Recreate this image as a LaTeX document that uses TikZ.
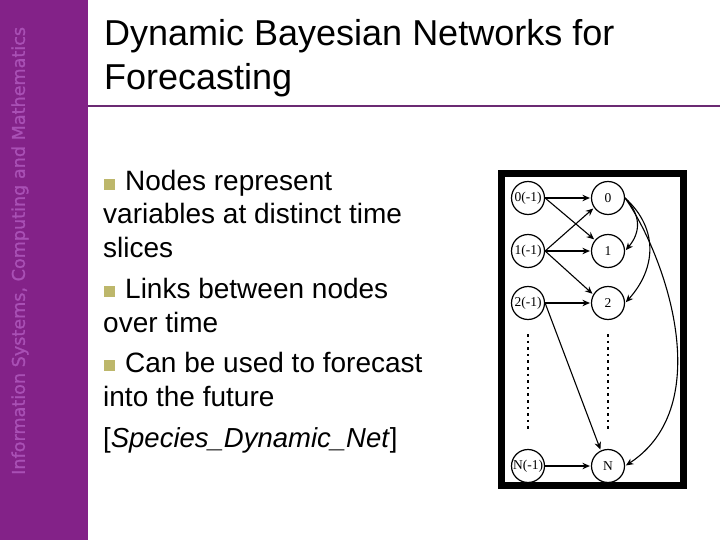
\documentclass[tikz,border=0pt]{standalone}
\usepackage{fontspec}
\setmainfont{Liberation Sans}
\newfontfamily\sidefont[FakeBold=1.2]{DejaVu Sans}
\newfontfamily\netfont{Liberation Serif}
\usetikzlibrary{arrows.meta}
\definecolor{sidepurple}{HTML}{832288}
\definecolor{sidetext}{HTML}{A950B5}
\definecolor{rulepurple}{HTML}{6B2A73}
\definecolor{bulletolive}{HTML}{BDB76B}
\def\layersep{80}
\newcommand{\bulletmark}{\textcolor{bulletolive}{\rule{11pt}{11pt}}}

\begin{document}
\begin{tikzpicture}[x=1pt,y=-1pt,shorten >=1pt,>={Stealth[length=7.5pt,width=6.5pt]},draw=black]
  \tikzstyle{var}=[circle,draw,line width=1.2pt,fill=white,minimum size=33pt,inner sep=0pt,font=\netfont\fontsize{13.5}{13.5}\selectfont]
  \tikzstyle{link}=[->,line width=1.1pt]
  \tikzstyle{boldlink}=[->,line width=1.8pt]
  \tikzstyle{titleline}=[anchor=base west,inner sep=0pt,font=\fontsize{36}{36}\selectfont]
  \tikzstyle{bodyline}=[anchor=base west,inner sep=0pt,font=\fontsize{28}{28}\selectfont]

  \useasboundingbox (0,0) rectangle (720,540);

  % sidebar and title
  \fill[sidepurple] (0,0) rectangle (88,540);
  \node[rotate=90,anchor=west,inner sep=0pt,text=sidetext,font=\sidefont\fontsize{17.6}{17.6}\selectfont] (side) at (20,475) {Information Systems, Computing and Mathematics};
  \draw[rulepurple,line width=1.6pt,shorten >=0pt] (88,106) -- (720,106);
  \node[titleline] (title-1) at (104,46) {Dynamic Bayesian Networks for};
  \node[titleline] (title-2) at (104,90) {Forecasting};

  % bullet text
  \foreach \name / \x / \y / \txt in {1/125/191/Nodes represent,2/103/224/variables at distinct time,3/103/258/slices,4/125/298/Links between nodes,5/103/332/over time,6/125/372/Can be used to forecast,7/103/406/into the future}
    \node[bodyline] (line-\name) at (\x,\y) {\txt};
  \foreach \name / \y in {1/191,4/298,6/372}
    \node[anchor=base west,inner sep=0pt] (bullet-\name) at (104,\y-1) {\bulletmark};
  \node[bodyline,font=\fontsize{27.5}{27.5}\selectfont] (line-8) at (103,447) {[\textit{Species\_Dynamic\_Net}]};

  % network
  \draw[line width=7pt,shorten >=0pt] (501,173.5) rectangle (683.5,485);

  \foreach \name / \y in {0/198,1/251,2/303,N/466}
    \node[var] (P-\name) at (528,\y) {\name(-1)};
  \foreach \name / \y in {0/198,1/251,2/303,N/466}
    \node[var] (C-\name) at (528+\layersep,\y) {\name};

  \foreach \source / \dest / \ang in {0/1/140,1/0/215,1/2/150,2/2/180,2/N/115,N/N/180}
    \draw[link] (P-\source.east) -- (C-\dest.\ang);
  \foreach \source in {0,1}
    \draw[boldlink] (P-\source.east) -- (C-\source.west);

  \draw[link] (C-0.east) .. controls (641,215) and (641,232) .. (C-1.east);
  \draw[link] (C-0.east) .. controls (660,230) and (655,270) .. (C-2.east);
  \draw[link] (C-0.east) .. controls (665,255) and (718,405) .. (C-N.east);

  \coordinate (P-top) at (528,334);
  \coordinate (P-bot) at (528,429);
  \coordinate (C-top) at (608,334);
  \coordinate (C-bot) at (608,429);
  \draw[line width=2.6pt,dash pattern=on 2.6pt off 4pt,shorten >=0pt] (P-top) -- (P-bot);
  \draw[line width=2.6pt,dash pattern=on 2.6pt off 4pt,shorten >=0pt] (C-top) -- (C-bot);
\end{tikzpicture}
\end{document}
